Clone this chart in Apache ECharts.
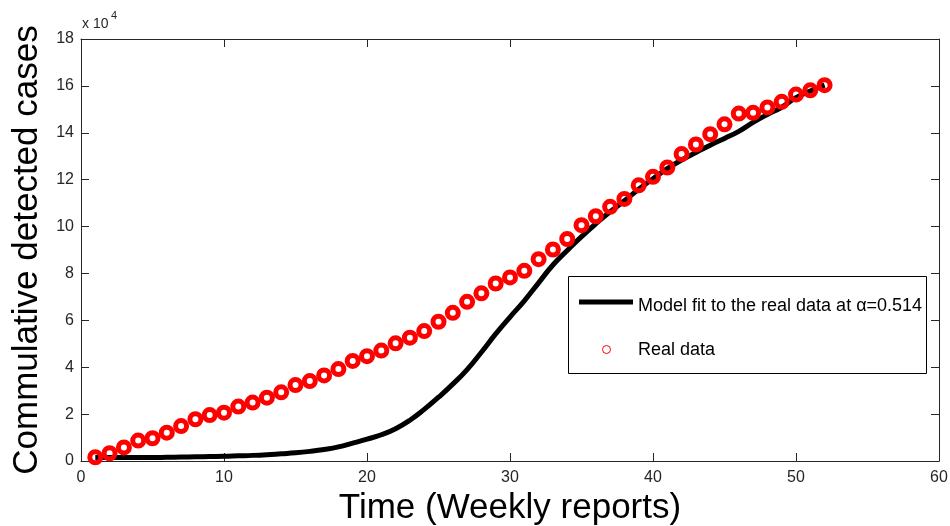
<!DOCTYPE html>
<html>
<head>
<meta charset="utf-8">
<title>Commulative detected cases</title>
<script src="https://cdn.jsdelivr.net/npm/echarts@6/dist/echarts.min.js"></script>
<style>
  html, body { margin: 0; padding: 0; background: #fff; }
  #chart { width: 950px; height: 526px; }
</style>
</head>
<body>
<div id="chart"></div>
<script>
// weekly reports
const weeks = [1, 2, 3, 4, 5, 6, 7, 8, 9, 10, 11, 12, 13, 14, 15, 16, 17, 18, 19, 20,
  21, 22, 23, 24, 25, 26, 27, 28, 29, 30, 31, 32, 33, 34, 35, 36, 37, 38, 39, 40,
  41, 42, 43, 44, 45, 46, 47, 48, 49, 50, 51, 52]

// real data (cases)
const realData = [1600, 3300, 5800, 8700, 9700, 12100, 14900, 17800, 19600, 20600,
  23200, 24900, 27000, 29300, 32400, 34100, 36500, 39200, 42700, 44700,
  47100, 50200, 52600, 55400, 59400, 63200, 67900, 71500, 75700, 78300,
  81100, 86100, 90200, 94700, 100600, 104400, 108400, 111800, 117600, 121200,
  125200, 130900, 135000, 139400, 143600, 148200, 148500, 150800, 153200, 156300,
  158100, 160300]

// model fit at alpha = 0.514
const modelFit = [1500, 1500, 1500, 1500, 1500, 1600, 1700, 1800, 1900, 2000,
  2200, 2400, 2700, 3100, 3500, 4100, 4900, 6000, 7600, 9300,
  11200, 13800, 17400, 22000, 27200, 32800, 39000, 46400, 54200, 61400,
  68300, 76000, 83600, 89800, 95700, 101200, 106300, 111000, 115900, 120400,
  124700, 128400, 131600, 134700, 137600, 140600, 144400, 147800, 150900, 155000,
  157800, 160300]

const xTicks = [0, 10, 20, 30, 40, 50, 60]
const yTicks = [0, 2, 4, 6, 8, 10, 12, 14, 16, 18] // x 10^4

const labelFont = 'Liberation Sans'
const axisColor = '#262626'

const chart = echarts.init(document.getElementById('chart'), null, { renderer: 'canvas' })

const boxAxis = {
  axisLine: { show: true, onZero: false, lineStyle: { color: axisColor, width: 1 } },
  axisTick: { show: true, inside: true, length: 8, lineStyle: { color: axisColor } },
  splitLine: { show: false }
}

chart.setOption({
  animation: false,
  grid: { left: 81, top: 39, right: 11, bottom: 65, containLabel: false, outerBoundsMode: 'none' },
  xAxis: [{
    type: 'value',
    min: xTicks[0],
    max: xTicks[xTicks.length - 1],
    interval: 10,
    position: 'bottom',
    ...boxAxis,
    axisLabel: { color: axisColor, fontFamily: labelFont, fontSize: 16, margin: 9 },
    name: 'Time (Weekly reports)',
    nameLocation: 'middle',
    nameGap: 28,
    nameTextStyle: { color: '#000', fontFamily: labelFont, fontSize: 35 }
  }, {
    type: 'value',
    min: xTicks[0],
    max: xTicks[xTicks.length - 1],
    interval: 10,
    position: 'top',
    ...boxAxis,
    axisLabel: { show: false }
  }],
  yAxis: [{
    type: 'value',
    min: 0,
    max: yTicks[yTicks.length - 1] * 1e4,
    interval: 2e4,
    position: 'left',
    ...boxAxis,
    axisLabel: {
      color: axisColor, fontFamily: labelFont, fontSize: 16, margin: 7,
      formatter: v => String(v / 1e4)
    },
    name: 'Commulative detected cases',
    nameLocation: 'middle',
    nameGap: 36,
    nameTextStyle: { color: '#000', fontFamily: labelFont, fontSize: 35 }
  }, {
    type: 'value',
    min: 0,
    max: yTicks[yTicks.length - 1] * 1e4,
    interval: 2e4,
    position: 'right',
    ...boxAxis,
    axisLabel: { show: false }
  }],
  series: [{
    name: 'Model fit to the real data at α=0.514',
    type: 'line',
    data: weeks.map((w, i) => [w, modelFit[i]]),
    smooth: 0.5,
    symbol: 'none',
    lineStyle: { color: '#000', width: 5 },
    z: 2
  }, {
    name: 'Real data',
    type: 'scatter',
    data: weeks.map((w, i) => [w, realData[i]]),
    symbol: 'circle',
    symbolSize: 11,
    itemStyle: { color: 'rgba(0,0,0,0)', borderColor: '#ff0000', borderWidth: 5, opacity: 1 },
    z: 3
  }],
  graphic: [
    // exponent label
    { type: 'text', left: 82, top: 17, style: { text: 'x 10', fontFamily: labelFont, fontSize: 14, fill: axisColor } },
    { type: 'text', left: 111, top: 10, style: { text: '4', fontFamily: labelFont, fontSize: 11, fill: axisColor } },
    // legend box
    { type: 'rect', shape: { x: 568.5, y: 276.5, width: 358, height: 97 },
      style: { fill: '#fff', stroke: '#000', lineWidth: 1 }, z: 10 },
    { type: 'line', shape: { x1: 579, y1: 302, x2: 633, y2: 302 },
      style: { stroke: '#000', lineWidth: 5 }, z: 11 },
    { type: 'text', x: 638, y: 306, style: { text: 'Model fit to the real data at α=0.514',
      fontFamily: labelFont, fontSize: 18, fill: '#000', verticalAlign: 'middle' }, z: 11 },
    { type: 'circle', shape: { cx: 606.5, cy: 349.5, r: 4 },
      style: { fill: 'none', stroke: '#ff0000', lineWidth: 1 }, z: 11 },
    { type: 'text', x: 638, y: 350, style: { text: 'Real data',
      fontFamily: labelFont, fontSize: 18, fill: '#000', verticalAlign: 'middle' }, z: 11 }
  ]
})
</script>
</body>
</html>
